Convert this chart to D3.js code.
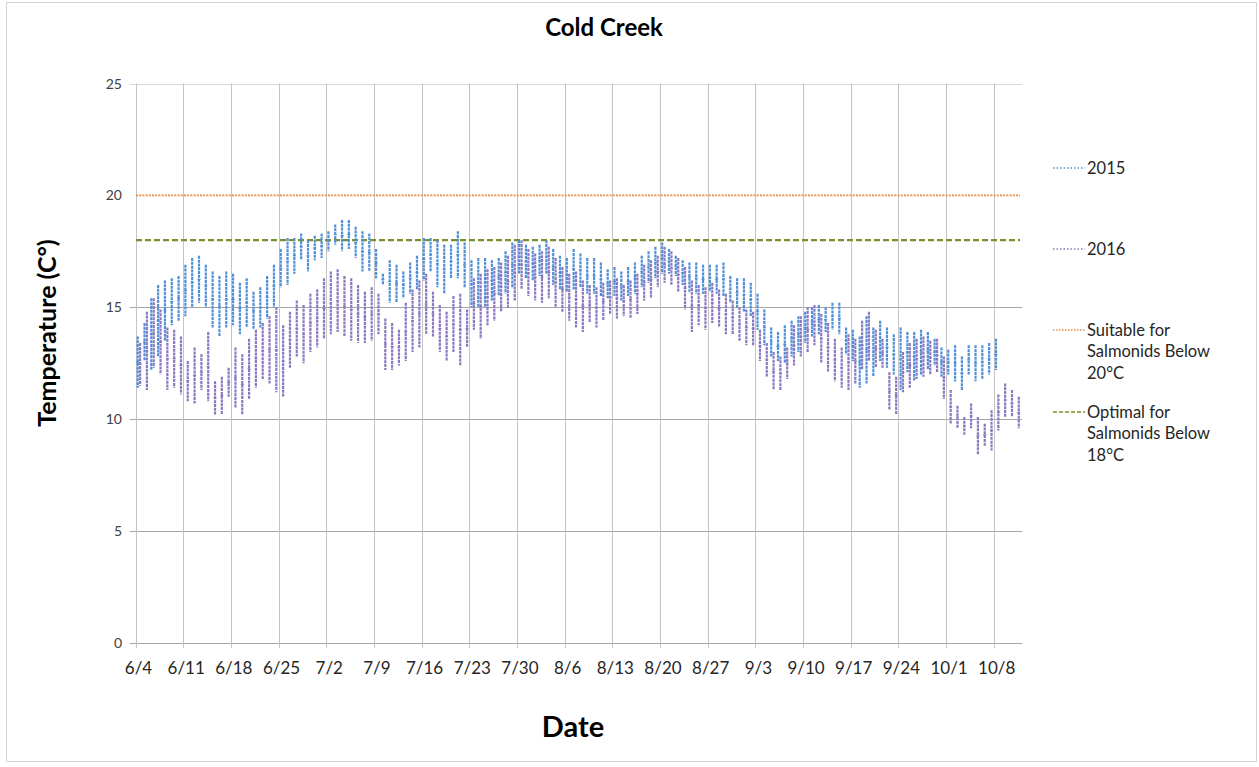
<!DOCTYPE html>
<html>
<head>
<meta charset="utf-8">
<script src="https://cdn.jsdelivr.net/npm/d3@7"></script>
<style>
    body { margin: 0; background: #ffffff; }
    svg { display: block; font-family: Lato, "Open Sans", sans-serif; }
</style>
</head>
<body>
<svg id="canvas" width="1259" height="767"></svg>
<script>
// daily range, one value per day starting 6/4
const startDay = "2016-06-04";
const low2015 = [
    11.4, 12.6, 12.2, 12.8, 13.5, 14.2, 14.4, 14.6, 15.0, 15.2,
    15.0, 14.1, 13.7, 14.1, 14.2, 13.8, 14.1, 14.0, 14.1, 14.5,
    15.0, 15.9, 16.0, 16.5, 17.1, 16.6, 17.1, 17.2, 17.5, 17.8,
    17.5, 17.6, 17.2, 16.6, 16.6, 16.3, 16.0, 15.2, 15.2, 15.4,
    15.6, 15.8, 16.2, 16.6, 15.9, 15.6, 16.3, 16.3, 15.9, 15.0,
    15.0, 15.0, 15.3, 15.5, 15.6, 15.9, 16.5, 16.3, 16.2, 16.4,
    16.5, 16.0, 15.8, 15.7, 15.8, 15.9, 15.6, 15.6, 15.5, 15.4,
    15.5, 15.3, 15.5, 15.6, 15.9, 16.1, 16.3, 16.5, 16.5, 16.4,
    16.0, 15.7, 15.6, 15.6, 15.7, 15.6, 15.5, 15.2, 15.0, 14.8,
    14.6, 14.0, 13.3, 12.8, 12.6, 12.5, 12.8, 13.0, 13.4, 13.7,
    13.8, 13.9, 14.0, 13.8, 12.9, 12.6, 11.4, 11.6, 11.9, 12.6,
    12.3, 12.0, 11.3, 12.1, 11.7, 12.0, 12.2, 12.4, 11.9, 12.0,
    11.7, 11.3, 12.0, 11.7, 11.8, 12.0, 12.2
];
const high2015 = [
    13.7, 14.3, 15.4, 16.0, 16.2, 16.3, 16.4, 16.9, 17.2, 17.3,
    16.9, 16.6, 16.4, 16.6, 16.5, 16.1, 16.3, 15.7, 15.9, 16.4,
    16.9, 17.6, 18.1, 18.1, 18.3, 18.0, 18.2, 18.3, 18.4, 18.7,
    18.9, 18.9, 18.6, 18.4, 18.3, 17.6, 16.5, 17.1, 16.9, 16.6,
    17.0, 17.3, 18.1, 18.1, 18.0, 17.8, 17.8, 18.4, 17.9, 17.1,
    17.2, 17.2, 17.1, 17.2, 17.5, 17.9, 18.0, 17.8, 17.7, 17.8,
    18.0, 17.6, 17.3, 17.2, 17.6, 17.4, 17.2, 17.2, 17.0, 16.7,
    16.8, 16.6, 16.8, 17.0, 17.3, 17.5, 17.7, 17.9, 17.6, 17.3,
    17.1, 17.0, 17.0, 16.9, 16.9, 16.9, 17.0, 16.4, 16.3, 16.3,
    16.1, 15.6, 14.9, 14.1, 13.9, 14.2, 14.4, 14.6, 14.8, 15.0,
    15.1, 15.0, 15.2, 15.2, 14.1, 14.0, 13.7, 14.6, 14.1, 14.4,
    14.1, 13.8, 14.1, 13.9, 13.9, 14.0, 13.9, 13.6, 13.2, 13.1,
    13.3, 12.8, 13.3, 13.3, 13.3, 13.4, 13.6
];
const low2016 = [
    11.5, 11.3, 12.3, 12.0, 11.3, 11.4, 11.1, 10.8, 10.7, 11.3,
    10.8, 10.2, 10.2, 11.0, 10.5, 10.2, 10.9, 11.4, 11.8, 11.6,
    11.2, 11.0, 12.3, 12.8, 12.5, 13.0, 13.2, 13.6, 13.8, 13.9,
    13.7, 13.5, 13.4, 13.4, 13.5, 13.8, 12.2, 12.2, 12.4, 12.6,
    13.0, 13.2, 13.8, 13.7, 13.0, 12.6, 13.0, 12.4, 13.2, 14.0,
    13.6, 14.2, 14.4, 14.8, 15.0, 15.3, 15.8, 15.5, 15.3, 15.2,
    15.4, 15.0, 14.8, 14.4, 14.1, 13.9, 14.3, 14.1, 14.4, 14.7,
    14.5, 14.6, 14.5, 14.7, 15.3, 15.4, 15.9, 16.1, 16.0, 15.7,
    14.9, 13.9, 14.2, 14.0, 14.3, 14.1, 13.8, 13.8, 13.5, 13.3,
    13.3, 12.6, 11.9, 11.3, 11.3, 11.8, 12.4, 12.8, 13.0, 13.3,
    12.5, 12.1, 11.7, 11.4, 11.3, 11.6, 12.2, 12.6, 12.3, 12.3,
    10.4, 10.2, 11.2, 11.4, 11.8, 11.9, 12.0, 12.1, 10.9, 9.8,
    9.6, 9.3, 9.6, 8.4, 8.8, 8.6, 9.5, 10.1, 10.1, 9.6
];
const high2016 = [
    13.4, 14.8, 15.4, 14.9, 14.1, 14.0, 13.7, 12.6, 13.2, 12.9,
    13.9, 11.7, 11.9, 12.3, 13.2, 12.9, 13.6, 14.0, 14.3, 14.6,
    15.0, 14.2, 14.8, 15.3, 15.1, 15.6, 15.8, 16.3, 16.6, 16.7,
    16.4, 16.3, 16.0, 15.7, 15.9, 15.6, 14.5, 14.3, 14.0, 15.2,
    15.8, 16.2, 16.5, 15.7, 15.1, 14.8, 15.5, 15.6, 14.9, 16.3,
    16.5, 16.7, 16.8, 17.0, 17.3, 17.8, 18.0, 17.6, 17.4, 17.5,
    17.7, 17.2, 16.8, 16.5, 16.6, 16.2, 16.0, 15.9, 16.1, 16.2,
    16.3, 16.0, 16.2, 16.5, 16.9, 17.1, 17.3, 17.7, 17.5, 17.2,
    16.8, 16.2, 16.0, 15.9, 16.1, 15.8, 15.6, 15.3, 15.0, 14.9,
    14.8, 14.0, 13.4, 13.0, 12.8, 13.2, 14.2, 14.6, 15.0, 15.1,
    14.7, 14.3, 13.6, 13.2, 13.8, 13.6, 14.4, 14.8, 14.0, 13.6,
    12.1, 11.9, 13.0, 13.4, 13.6, 13.7, 13.5, 13.6, 12.8, 11.3,
    10.6, 10.1, 10.7, 10.1, 9.8, 10.4, 11.1, 11.6, 11.3, 11.0
];
const yTicks = [0, 5, 10, 15, 20, 25];
const weekLabels = ["6/4", "6/11", "6/18", "6/25", "7/2", "7/9", "7/16", "7/23", "7/30",
    "8/6", "8/13", "8/20", "8/27", "9/3", "9/10", "9/17", "9/24", "10/1", "10/8"];
const thresholdValues = [20, 18];
const legendNames = ["2015", "2016", "Suitable for|Salmonids Below|20°C", "Optimal for|Salmonids Below|18°C"];

const canvas = d3.select("#canvas");
const parseDay = d3.timeParse("%Y-%m-%d");
const firstDay = parseDay(startDay);

const x = d3.scaleTime()
    .domain([firstDay, d3.timeDay.offset(firstDay, 130)])
    .range([135.5, 1021]);
const y = d3.scaleLinear().domain([0, 25]).range([643, 83.5]);

const left = 130;
const right = 1022;

// outer frame
canvas.append("rect")
    .attr("x", 6.5).attr("y", 2.5)
    .attr("width", 1250).attr("height", 759)
    .attr("fill", "none")
    .attr("stroke", "#d4d4d4");

// horizontal grid (the 20 line is covered by the threshold)
canvas.append("g")
    .selectAll("line")
    .data(yTicks.filter((d) => d !== 20))
    .enter()
    .append("line")
    .attr("x1", left).attr("x2", right)
    .attr("y1", (d) => Math.round(y(d)) + 0.5)
    .attr("y2", (d) => Math.round(y(d)) + 0.5)
    .attr("stroke", (d) => (d === 25 ? "#d9d9d9" : "#a6a6a6"));

// vertical grid per week
const weekDays = weekLabels.map((label, i) => d3.timeDay.offset(firstDay, i * 7));
canvas.append("g")
    .selectAll("line")
    .data(weekDays)
    .enter()
    .append("line")
    .attr("x1", (d) => Math.round(x(d)) + 0.5)
    .attr("x2", (d) => Math.round(x(d)) + 0.5)
    .attr("y1", y(25))
    .attr("y2", y(0) + 5)
    .attr("stroke", "#c4c4c4");

// y tick labels
canvas.append("g")
    .selectAll("text")
    .data(yTicks)
    .enter()
    .append("text")
    .attr("x", 122)
    .attr("y", (d) => y(d) + 5)
    .attr("text-anchor", "end")
    .style("font-size", "14px")
    .attr("fill", "#404040")
    .text((d) => d);

// x tick labels
canvas.append("g")
    .selectAll("text")
    .data(weekDays)
    .enter()
    .append("text")
    .attr("x", (d) => x(d) + 3)
    .attr("y", 674)
    .attr("text-anchor", "middle")
    .style("font-size", "17px")
    .attr("fill", "#262626")
    .text((d, i) => weekLabels[i]);

// threshold lines
const thresholdStyles = [
    { color: "#f08a3c", width: 1.6, dash: "2,1.2" },
    { color: "#7a8f2e", width: 2.2, dash: "6,3" }
];
canvas.append("g")
    .selectAll("line")
    .data(thresholdValues)
    .enter()
    .append("line")
    .attr("x1", 136).attr("x2", 1020)
    .attr("y1", (d) => y(d))
    .attr("y2", (d) => y(d))
    .attr("stroke", (d, i) => thresholdStyles[i].color)
    .attr("stroke-width", (d, i) => thresholdStyles[i].width)
    .attr("stroke-dasharray", (d, i) => thresholdStyles[i].dash);

// daily bars for each year
const drawYear = (lows, highs, color, shift) => {
    const days = lows.map((lo, i) => ({ day: d3.timeDay.offset(firstDay, i), lo: lo, hi: highs[i] }));
    const g = canvas.append("g");
    g.selectAll("line")
        .data(days)
        .enter()
        .append("line")
        .attr("x1", (d) => x(d.day) + shift)
        .attr("x2", (d) => x(d.day) + shift)
        .attr("y1", (d) => y(d.hi))
        .attr("y2", (d) => y(d.lo))
        .attr("stroke", color)
        .attr("stroke-width", 2.2)
        .attr("stroke-dasharray", "3,0.8");
    // small mid-day tick
    g.selectAll("path")
        .data(days)
        .enter()
        .append("line")
        .attr("x1", (d) => x(d.day) + shift - 1.5)
        .attr("x2", (d) => x(d.day) + shift + 1.5)
        .attr("y1", (d) => y((d.lo + d.hi) / 2))
        .attr("y2", (d) => y((d.lo + d.hi) / 2))
        .attr("stroke", color)
        .attr("stroke-width", 1.2);
};
drawYear(low2015, high2015, "#4f8fd6", 2.2);
drawYear(low2016, high2016, "#8a78c0", 4.6);

// titles
canvas.append("text")
    .attr("x", 604).attr("y", 36)
    .attr("text-anchor", "middle")
    .style("font-size", "24px")
    .style("font-weight", "bold")
    .text("Cold Creek");

canvas.append("text")
    .attr("transform", "translate(56, 333) rotate(-90)")
    .attr("text-anchor", "middle")
    .style("font-size", "25px")
    .style("font-weight", "bold")
    .text("Temperature (C°)");

canvas.append("text")
    .attr("x", 573).attr("y", 737)
    .attr("text-anchor", "middle")
    .style("font-size", "29px")
    .style("font-weight", "bold")
    .text("Date");

// legend
const legendStyles = [
    { color: "#4f8fd6", width: 1.6, dash: "1.5,2", y: 168 },
    { color: "#8a78c0", width: 1.6, dash: "1.5,2", y: 249 },
    { color: "#f08a3c", width: 1.3, dash: "1.5,1.5", y: 330 },
    { color: "#7a8f2e", width: 1.6, dash: "4,2", y: 412 }
];
const legend = canvas.append("g")
    .selectAll("g")
    .data(legendNames)
    .enter()
    .append("g")
    .attr("transform", (d, i) => `translate(1053, ${legendStyles[i].y})`);

legend.append("line")
    .attr("x1", 0).attr("x2", 32)
    .attr("stroke", (d, i) => legendStyles[i].color)
    .attr("stroke-width", (d, i) => legendStyles[i].width)
    .attr("stroke-dasharray", (d, i) => legendStyles[i].dash);

legend.append("text")
    .attr("x", 34)
    .style("font-size", "16.5px")
    .attr("fill", "#262626")
    .selectAll("tspan")
    .data((d) => d.split("|"))
    .enter()
    .append("tspan")
    .attr("x", 34)
    .attr("y", (d, i) => i * 21.5 + 5.5)
    .text((d) => d);
</script>
</body>
</html>
